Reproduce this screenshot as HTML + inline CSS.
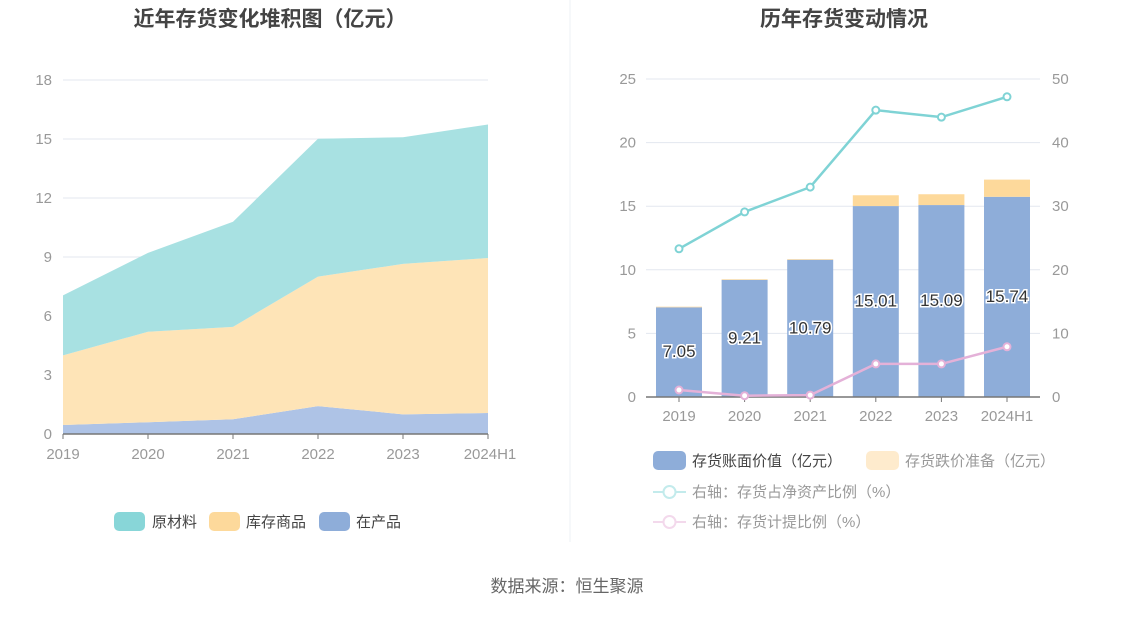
<!DOCTYPE html>
<html><head><meta charset="utf-8">
<style>
body{margin:0;background:#fff;font-family:"Liberation Sans","Noto Sans CJK SC",sans-serif;}
svg text{font-family:"Liberation Sans","Noto Sans CJK SC",sans-serif;}
</style></head>
<body>
<svg id="c" width="1134" height="612" xmlns="http://www.w3.org/2000/svg">
<text x="270" y="26" text-anchor="middle" font-size="21" font-weight="bold" fill="#444">近年存货变化堆积图（亿元）</text>
<text x="844" y="26" text-anchor="middle" font-size="21" font-weight="bold" fill="#444">历年存货变动情况</text>
<line x1="570" y1="0" x2="570" y2="542" stroke="#eef0f4"/>
<text x="567" y="592" text-anchor="middle" font-size="17" fill="#666">数据来源：恒生聚源</text>
<g id="L"></g><g id="R"></g>
<g>
<rect x="114" y="512" width="31" height="19" rx="5" fill="#88d6d8"/>
<text x="152" y="527" font-size="15" fill="#444">原材料</text>
<rect x="209" y="512" width="31" height="19" rx="5" fill="#fdd99b"/>
<text x="246" y="527" font-size="15" fill="#444">库存商品</text>
<rect x="319" y="512" width="31" height="19" rx="5" fill="#8eadd9"/>
<text x="356" y="527" font-size="15" fill="#444">在产品</text>
</g>
<g>
<rect x="653" y="451" width="33" height="19" rx="5" fill="#8eadd9"/>
<text x="692" y="466" font-size="15" fill="#444">存货账面价值（亿元）</text>
<rect x="866" y="451" width="33" height="19" rx="5" fill="#feebcd"/>
<text x="905" y="466" font-size="15" fill="#999">存货跌价准备（亿元）</text>
<line x1="653" y1="492" x2="686" y2="492" stroke="#c3ebec" stroke-width="2"/>
<circle cx="669.5" cy="492" r="6" fill="#fff" stroke="#c3ebec" stroke-width="2"/>
<text x="692" y="497" font-size="15" fill="#999">右轴：存货占净资产比例（%）</text>
<line x1="653" y1="522" x2="686" y2="522" stroke="#f3d9ec" stroke-width="2"/>
<circle cx="669.5" cy="522" r="6" fill="#fff" stroke="#f3d9ec" stroke-width="2"/>
<text x="692" y="527" font-size="15" fill="#999">右轴：存货计提比例（%）</text>
</g>
</svg>
<script>
const categories=["2019","2020","2021","2022","2023","2024H1"];
const wip=[0.46,0.6,0.75,1.42,1.0,1.07];
const goods=[3.54,4.6,4.7,6.58,7.65,7.88];
const raw=[3.05,4.01,5.34,7.01,6.44,6.79];
const leftTicks=[0,3,6,9,12,15,18];
const bookValue=[7.05,9.21,10.79,15.01,15.09,15.74];
const provision=[0.05,0.05,0.05,0.85,0.85,1.35];
const netAssetRatio=[23.3,29.1,33.0,45.1,44.0,47.2];
const provisionRatio=[1.1,0.2,0.3,5.2,5.2,7.9];
const rightTicksL=[0,5,10,15,20,25];
const rightTicksR=[0,10,20,30,40,50];
const NS="http://www.w3.org/2000/svg";
function mk(p,t,a){const e=document.createElementNS(NS,t);for(const k in a)e.setAttribute(k,a[k]);p.appendChild(e);return e;}
// Left chart
const L=document.getElementById('L');
const lx=i=>63+i*(488-63)/(categories.length-1);
const ly=v=>434-v*(434-80)/18;
leftTicks.forEach(t=>{const y=ly(t);
 if(t>0){const g=mk(L,'line',{x1:63,x2:488,y1:y,y2:y,stroke:'#e3e7ef'});}
 const tx=mk(L,'text',{x:52,y:y+5,'text-anchor':'end','font-size':15,fill:'#999'});tx.textContent=t;});
const layers=[[wip,'#aec3e6','wip'],[goods,'#fee4b7','goods'],[raw,'#a8e1e2','raw']];
let base=categories.map(()=>0);
layers.forEach(([arr,col,nm])=>{const top=base.map((b,i)=>b+arr[i]);
 let d='M'+top.map((v,i)=>lx(i)+','+ly(v)).join('L');
 for(let i=categories.length-1;i>=0;i--)d+='L'+lx(i)+','+ly(base[i]);
 const p=mk(L,'path',{d:d+'Z',fill:col});
 base=top;});
const la=mk(L,'line',{x1:63,x2:488,y1:434,y2:434,stroke:'#777','stroke-width':1.5});
categories.forEach((c,i)=>{const t=mk(L,'line',{x1:lx(i),x2:lx(i),y1:434,y2:439,stroke:'#777'});
 const tx=mk(L,'text',{x:i==5?lx(i)+2:lx(i),y:459,'text-anchor':'middle','font-size':15,fill:'#999'});tx.textContent=c;});
// Right chart
const R=document.getElementById('R');
const step=65.6;
const rx=i=>679+i*step;
const ryL=v=>397-v*(397-79)/25;
const ryR=v=>397-v*(397-79)/50;
rightTicksL.forEach((t,k)=>{const y=ryL(t);
 if(t>0){const g=mk(R,'line',{x1:646,x2:1040,y1:y,y2:y,stroke:'#e3e7ef'});}
 const tx=mk(R,'text',{x:636,y:y+5,'text-anchor':'end','font-size':15,fill:'#999'});tx.textContent=t;});
rightTicksR.forEach(t=>{const tx=mk(R,'text',{x:1052,y:ryR(t)+5,'font-size':15,fill:'#999'});tx.textContent=t;});
categories.forEach((c,i)=>{const x=rx(i)-23;
 const b=mk(R,'rect',{x:x,y:ryL(bookValue[i]),width:46,height:397-ryL(bookValue[i]),fill:'#8eadd9'});
 const p=mk(R,'rect',{x:x,y:ryL(bookValue[i]+provision[i]),width:46,height:ryL(bookValue[i])-ryL(bookValue[i]+provision[i]),fill:'#fdd99b'});
 const l=mk(R,'text',{x:rx(i),y:(ryL(bookValue[i])+397)/2+5,'text-anchor':'middle','font-size':17,fill:'#333',stroke:'#fff','stroke-width':3,'paint-order':'stroke'});l.textContent=bookValue[i].toFixed(2);});
const ra=mk(R,'line',{x1:646,x2:1040,y1:397,y2:397,stroke:'#777','stroke-width':1.5});
categories.forEach((c,i)=>{const t=mk(R,'line',{x1:rx(i),x2:rx(i),y1:397,y2:402,stroke:'#777'});
 const tx=mk(R,'text',{x:rx(i),y:421,'text-anchor':'middle','font-size':15,fill:'#999'});tx.textContent=c;});
[[netAssetRatio,'#7fd3d5','net-asset-ratio'],[provisionRatio,'#e4b1d8','provision-ratio']].forEach(([arr,col,nm])=>{
 const pl=mk(R,'polyline',{points:arr.map((v,i)=>rx(i)+','+ryR(v)).join(' '),fill:'none',stroke:col,'stroke-width':2.5});
 arr.forEach((v,i)=>{const c=mk(R,'circle',{cx:rx(i),cy:ryR(v),r:3.5,fill:'#fff',stroke:col,'stroke-width':2});});});
</script>
</body></html>
